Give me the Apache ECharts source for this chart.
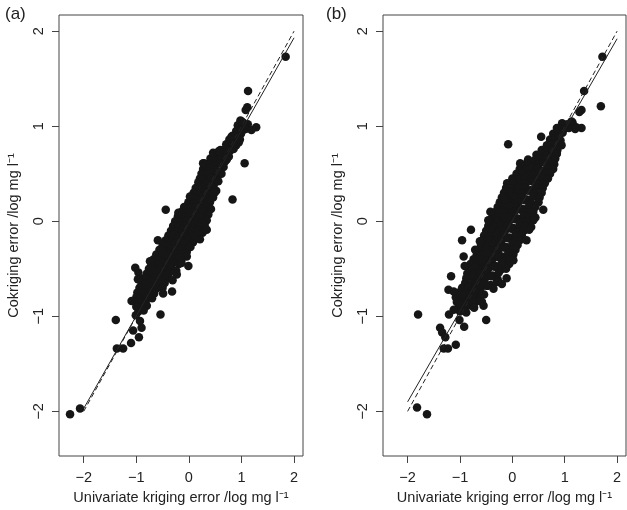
<!DOCTYPE html>
<html>
<head>
<meta charset="utf-8">
<script src="https://cdn.jsdelivr.net/npm/echarts@6/dist/echarts.min.js"></script>
<style>
  html, body { margin: 0; padding: 0; background: #fff; }
  #chart { width: 627px; height: 510px; }
</style>
</head>
<body>
<div id="chart"></div>
<script>
// tick positions shared by both panels
const ticks = [-2, -1, 0, 1, 2];

// panel (a): [univariate kriging error, cokriging error]
const pointsA = [
  [0.98,1.06],[1.03,1.04],[0.93,1.01],[1.05,0.99],[1.12,1.02],[0.9,0.95],[1.0,0.94],[1.08,0.97],
  [0.83,0.9],[0.92,0.88],[0.99,0.92],[0.77,0.86],[0.87,0.84],[0.95,0.83],[0.71,0.81],[0.82,0.79],[0.9,0.8],
  [0.6,0.75],[0.69,0.76],[0.78,0.74],[0.85,0.76],[0.5,0.71],[0.61,0.69],[0.7,0.72],[0.76,0.68],
  [0.41,0.66],[0.52,0.64],[0.6,0.66],[0.69,0.63],[0.29,0.61],[0.37,0.6],[0.49,0.59],[0.6,0.61],[0.66,0.57],
  [0.27,0.55],[0.4,0.56],[0.51,0.54],[0.58,0.52],[0.24,0.5],[0.33,0.49],[0.45,0.51],[0.54,0.48],[0.62,0.5],
  [0.21,0.45],[0.31,0.44],[0.42,0.46],[0.5,0.43],[0.18,0.41],[0.28,0.39],[0.37,0.4],[0.47,0.38],[0.56,0.42],
  [0.13,0.35],[0.24,0.36],[0.34,0.34],[0.45,0.35],[0.52,0.32],[0.09,0.3],[0.2,0.29],[0.31,0.31],[0.41,0.28],[0.49,0.3],
  [0.05,0.25],[0.16,0.24],[0.26,0.26],[0.36,0.23],[0.46,0.25],[-0.01,0.2],[0.1,0.19],[0.21,0.21],[0.3,0.18],[0.4,0.2],
  [-0.09,0.15],[0.04,0.14],[0.14,0.16],[0.24,0.13],[0.33,0.15],[0.42,0.13],
  [-0.14,0.1],[-0.03,0.09],[0.08,0.11],[0.18,0.08],[0.28,0.1],[0.37,0.07],
  [-0.21,0.05],[-0.08,0.04],[0.02,0.06],[0.12,0.03],[0.22,0.05],[0.32,0.02],
  [-0.26,0.0],[-0.15,-0.01],[-0.04,0.01],[0.06,-0.02],[0.16,0.0],[0.25,-0.01],[0.34,0.01],
  [-0.3,-0.05],[-0.19,-0.06],[-0.08,-0.04],[0.02,-0.06],[0.11,-0.04],[0.21,-0.06],[0.3,-0.04],
  [-0.34,-0.1],[-0.23,-0.11],[-0.12,-0.09],[-0.02,-0.11],[0.08,-0.09],[0.17,-0.1],[0.26,-0.12],
  [-0.39,-0.15],[-0.28,-0.14],[-0.18,-0.16],[-0.08,-0.14],[0.02,-0.16],[0.12,-0.15],[0.2,-0.14],
  [-0.44,-0.2],[-0.32,-0.21],[-0.22,-0.19],[-0.12,-0.21],[-0.02,-0.19],[0.08,-0.22],
  [-0.5,-0.25],[-0.38,-0.26],[-0.28,-0.24],[-0.18,-0.26],[-0.08,-0.24],[0.03,-0.27],
  [-0.56,-0.3],[-0.45,-0.31],[-0.34,-0.29],[-0.24,-0.31],[-0.14,-0.29],[-0.04,-0.32],
  [-0.62,-0.35],[-0.5,-0.36],[-0.4,-0.34],[-0.3,-0.36],[-0.2,-0.34],[-0.09,-0.37],
  [-0.67,-0.4],[-0.56,-0.41],[-0.46,-0.39],[-0.36,-0.41],[-0.26,-0.39],[-0.15,-0.42],
  [-0.71,-0.45],[-0.6,-0.46],[-0.5,-0.44],[-0.4,-0.46],[-0.3,-0.44],[-0.19,-0.45],
  [-0.76,-0.5],[-0.65,-0.51],[-0.54,-0.49],[-0.44,-0.51],[-0.34,-0.49],[-0.24,-0.52],
  [-0.8,-0.55],[-0.7,-0.56],[-0.6,-0.54],[-0.5,-0.56],[-0.38,-0.55],
  [-0.86,-0.6],[-0.74,-0.61],[-0.64,-0.59],[-0.54,-0.61],[-0.42,-0.6],[-0.31,-0.62],
  [-0.9,-0.65],[-0.8,-0.66],[-0.7,-0.64],[-0.58,-0.66],[-0.46,-0.65],
  [-0.94,-0.7],[-0.84,-0.71],[-0.74,-0.69],[-0.62,-0.71],[-0.5,-0.7],
  [-0.98,-0.75],[-0.88,-0.76],[-0.76,-0.74],[-0.66,-0.76],[-1.0,-0.8],[-0.9,-0.81],[-0.8,-0.79],[-0.7,-0.81],
  [-1.02,-0.85],[-0.92,-0.86],[-0.82,-0.84],[-1.0,-0.9],[-0.9,-0.91],[-0.8,-0.89],[-0.96,-0.95],[-0.86,-0.94],
  // scattered points away from the band
  [1.84,1.73],[1.125,1.37],[1.11,1.2],[1.08,1.17],[1.0,1.05],[1.28,0.99],[1.19,0.96],[1.06,0.61],
  [0.81,0.89],[0.97,0.86],[0.59,0.73],[0.72,0.65],[0.83,0.23],[-0.44,0.12],[-0.59,-0.2],[0.27,0.61],
  [0.46,0.72],[0.57,0.74],[0.34,-0.09],[0.21,-0.19],[0.02,0.26],[-0.2,0.09],
  [-2.26,-2.03],[-2.07,-1.97],[-1.39,-1.04],[-1.37,-1.34],[-1.25,-1.34],[-1.1,-1.28],[-1.06,-1.15],
  [-0.95,-1.22],[-0.9,-1.12],[-0.93,-1.05],[-1.01,-0.99],[-0.54,-0.98],[-0.32,-0.74],[-0.49,-0.76],
  [-1.02,-0.49],[-0.96,-0.54],[-0.97,-0.61],[-0.71,-0.44],[-0.01,-0.47],[-0.23,-0.56],[-0.14,-0.44],
  [-0.04,-0.37],[-1.09,-0.84],[-0.74,-0.42],[-0.52,-0.3],[-0.17,-0.38]
];

// panel (b)
const pointsB = [
  [0.95,1.03],[1.05,1.02],[1.15,1.04],[0.88,0.97],[0.97,0.96],[1.08,0.98],[1.2,0.97],
  [0.78,0.92],[0.88,0.91],[0.96,0.93],[0.72,0.86],[0.82,0.87],[0.92,0.85],
  [0.66,0.8],[0.76,0.81],[0.86,0.79],[0.94,0.8],[0.56,0.75],[0.66,0.74],[0.76,0.76],[0.86,0.75],
  [0.46,0.7],[0.56,0.71],[0.66,0.69],[0.76,0.7],[0.85,0.71],
  [0.3,0.65],[0.42,0.64],[0.52,0.66],[0.62,0.65],[0.72,0.63],[0.82,0.66],
  [0.16,0.6],[0.28,0.61],[0.4,0.59],[0.5,0.6],[0.6,0.62],[0.7,0.59],[0.8,0.6],
  [0.14,0.55],[0.26,0.54],[0.38,0.56],[0.48,0.55],[0.58,0.53],[0.68,0.56],[0.78,0.55],
  [0.08,0.5],[0.2,0.51],[0.32,0.49],[0.42,0.5],[0.52,0.52],[0.62,0.49],[0.72,0.5],
  [0.0,0.45],[0.12,0.44],[0.24,0.46],[0.36,0.45],[0.46,0.43],[0.56,0.46],[0.68,0.45],
  [-0.1,0.4],[0.02,0.41],[0.14,0.39],[0.26,0.4],[0.38,0.42],[0.5,0.39],[0.62,0.4],
  [-0.12,0.35],[0.0,0.34],[0.12,0.36],[0.24,0.35],[0.36,0.33],[0.46,0.36],[0.58,0.35],
  [-0.16,0.3],[-0.04,0.31],[0.08,0.29],[0.2,0.3],[0.32,0.32],[0.44,0.29],[0.56,0.3],
  [-0.2,0.25],[-0.08,0.24],[0.04,0.26],[0.16,0.25],[0.28,0.23],[0.4,0.26],[0.52,0.25],
  [-0.24,0.2],[-0.12,0.21],[0.0,0.19],[0.12,0.2],[0.24,0.22],[0.36,0.19],[0.5,0.2],
  [-0.28,0.15],[-0.16,0.14],[-0.04,0.16],[0.08,0.15],[0.2,0.13],[0.32,0.16],[0.44,0.15],
  [-0.32,0.1],[-0.2,0.11],[-0.08,0.09],[0.04,0.1],[0.16,0.12],[0.28,0.09],[0.4,0.1],
  [-0.38,0.05],[-0.26,0.04],[-0.14,0.06],[-0.02,0.05],[0.1,0.03],[0.22,0.06],[0.34,0.05],[0.44,0.04],
  [-0.42,0.0],[-0.3,0.01],[-0.18,-0.01],[-0.06,0.0],[0.06,0.02],[0.18,-0.01],[0.3,0.0],[0.4,0.01],
  [-0.46,-0.05],[-0.34,-0.06],[-0.22,-0.04],[-0.1,-0.05],[0.02,-0.07],[0.14,-0.04],[0.26,-0.05],[0.36,-0.06],
  [-0.5,-0.1],[-0.38,-0.09],[-0.26,-0.11],[-0.14,-0.1],[-0.02,-0.08],[0.1,-0.11],[0.22,-0.1],[0.32,-0.09],
  [-0.54,-0.15],[-0.42,-0.16],[-0.3,-0.14],[-0.18,-0.15],[-0.06,-0.17],[0.06,-0.14],[0.18,-0.15],
  [-0.56,-0.2],[-0.44,-0.19],[-0.32,-0.21],[-0.2,-0.2],[-0.08,-0.18],[0.04,-0.21],[0.14,-0.2],
  [-0.6,-0.25],[-0.48,-0.26],[-0.36,-0.24],[-0.24,-0.25],[-0.12,-0.27],[0.0,-0.24],[0.1,-0.25],
  [-0.62,-0.3],[-0.5,-0.29],[-0.38,-0.31],[-0.26,-0.3],[-0.14,-0.28],[-0.02,-0.31],[0.06,-0.3],
  [-0.68,-0.35],[-0.56,-0.36],[-0.44,-0.34],[-0.32,-0.35],[-0.2,-0.37],[-0.08,-0.34],[0.02,-0.35],
  [-0.74,-0.4],[-0.62,-0.39],[-0.5,-0.41],[-0.38,-0.4],[-0.26,-0.38],[-0.14,-0.41],[-0.04,-0.4],
  [-0.8,-0.45],[-0.68,-0.46],[-0.56,-0.44],[-0.44,-0.45],[-0.32,-0.47],[-0.2,-0.44],[-0.06,-0.45],
  [-0.82,-0.5],[-0.7,-0.49],[-0.58,-0.51],[-0.46,-0.5],[-0.34,-0.48],[-0.22,-0.51],[-0.12,-0.5],
  [-0.86,-0.55],[-0.74,-0.56],[-0.62,-0.54],[-0.5,-0.55],[-0.38,-0.57],[-0.26,-0.54],
  [-0.88,-0.6],[-0.76,-0.59],[-0.64,-0.61],[-0.52,-0.6],[-0.4,-0.58],[-0.28,-0.61],
  [-0.9,-0.65],[-0.78,-0.66],[-0.66,-0.64],[-0.54,-0.65],[-0.42,-0.67],[-0.3,-0.64],[-0.2,-0.66],
  [-0.96,-0.7],[-0.84,-0.69],[-0.72,-0.71],[-0.6,-0.7],[-0.48,-0.68],[-0.36,-0.71],
  [-1.02,-0.75],[-0.9,-0.76],[-0.78,-0.74],[-0.66,-0.75],[-0.54,-0.77],
  [-1.08,-0.8],[-0.96,-0.79],[-0.84,-0.81],[-0.72,-0.8],[-0.6,-0.78],
  [-1.06,-0.85],[-0.94,-0.86],[-0.82,-0.84],[-0.7,-0.85],[-1.02,-0.9],[-0.9,-0.91],[-0.78,-0.89],
  [-1.0,-0.95],[-0.88,-0.96],
  // scattered points away from the band
  [1.72,1.73],[1.37,1.37],[1.69,1.21],[1.32,1.17],[1.28,1.15],[1.13,1.05],[1.04,0.99],[1.32,0.98],
  [1.22,0.99],[0.85,0.98],[0.55,0.89],[-0.08,0.81],[0.85,0.72],[0.59,0.12],[0.27,-0.2],[-0.42,0.1],
  [-0.46,0.01],[-0.79,-0.09],[-0.96,-0.2],[-0.93,-0.37],[-0.91,-0.47],[-1.17,-0.58],[-1.22,-0.72],
  [-1.12,-0.74],[-0.11,-0.6],[0.02,-0.41],[-0.62,-0.21],[-0.71,-0.3],[-0.55,-0.89],[-0.5,-1.04],
  [-1.82,-1.96],[-1.63,-2.03],[-1.8,-0.98],[-1.38,-1.12],[-1.34,-1.17],[-1.28,-1.22],[-1.31,-1.34],
  [-1.23,-1.34],[-1.08,-1.3],[-1.01,-1.04],[-0.92,-1.11],[-1.21,-0.98],[-1.12,-0.93],[-1.0,-0.87],
  [-0.96,-0.77],[-0.77,-0.85],[-0.73,-0.91],[-0.58,-0.85],[-0.17,0.26],[0.15,0.61]
];

// fitted line (solid) and 1:1 line (dashed)
const fitA = [[-2, -1.97], [2, 1.93]];
const fitB = [[-2, -1.9], [2, 1.92]];
const oneToOne = [[-2, -2], [2, 2]];

const xName = 'Univariate kriging error /log mg l\u207B\u00B9';
const yName = 'Cokriging error /log mg l\u207B\u00B9';
const font = 'Liberation Sans, Arial, Helvetica, sans-serif';
const minus = v => String(v).replace('-', '\u2212');

function xAxis(i) {
  return {
    gridIndex: i, type: 'value', min: -2.47, max: 2.17,
    name: xName, nameLocation: 'middle', nameGap: 34,
    nameTextStyle: { fontFamily: font, fontSize: 14.5, color: '#222' },
    axisLine: { show: false, onZero: false },
    axisTick: { show: true, length: 7, lineStyle: { color: '#444' }, customValues: ticks },
    axisLabel: { fontFamily: font, fontSize: 14.5, color: '#222', margin: 14, customValues: ticks, formatter: minus },
    splitLine: { show: false }
  };
}
function yAxis(i) {
  return {
    gridIndex: i, type: 'value', min: -2.47, max: 2.17,
    name: yName, nameLocation: 'middle', nameGap: 38, nameRotate: 90,
    nameTextStyle: { fontFamily: font, fontSize: 14.5, color: '#222' },
    axisLine: { show: false, onZero: false },
    axisTick: { show: true, length: 7, lineStyle: { color: '#444' }, customValues: ticks },
    axisLabel: { fontFamily: font, fontSize: 14.5, color: '#222', margin: 13, rotate: 90, customValues: ticks, formatter: minus },
    splitLine: { show: false }
  };
}
function scatter(i, data) {
  return {
    type: 'scatter', xAxisIndex: i, yAxisIndex: i, data: data,
    symbolSize: 8.5, itemStyle: { color: '#161616', opacity: 1 }, silent: true
  };
}
function line(i, data, dashed) {
  return {
    type: 'line', xAxisIndex: i, yAxisIndex: i, data: data, symbol: 'none', z: 5, silent: true,
    lineStyle: { color: '#222', width: 1, type: dashed ? [5, 3] : 'solid' }
  };
}

const chart = echarts.init(document.getElementById('chart'));
chart.setOption({
  animation: false,
  backgroundColor: '#fff',
  title: [
    { text: '(a)', left: 0, top: 1, textStyle: { fontFamily: font, fontSize: 17, fontWeight: 'normal', color: '#222' } },
    { text: '(b)', left: 321, top: 1, textStyle: { fontFamily: font, fontSize: 17, fontWeight: 'normal', color: '#222' } }
  ],
  grid: [
    { left: 59, top: 15, width: 244, height: 443, show: true, borderColor: '#444', borderWidth: 1, backgroundColor: 'transparent' },
    { left: 383, top: 15, width: 243, height: 443, show: true, borderColor: '#444', borderWidth: 1, backgroundColor: 'transparent' }
  ],
  xAxis: [xAxis(0), xAxis(1)],
  yAxis: [yAxis(0), yAxis(1)],
  series: [
    scatter(0, pointsA), line(0, fitA, false), line(0, oneToOne, true),
    scatter(1, pointsB), line(1, fitB, false), line(1, oneToOne, true)
  ]
});
</script>
</body>
</html>
